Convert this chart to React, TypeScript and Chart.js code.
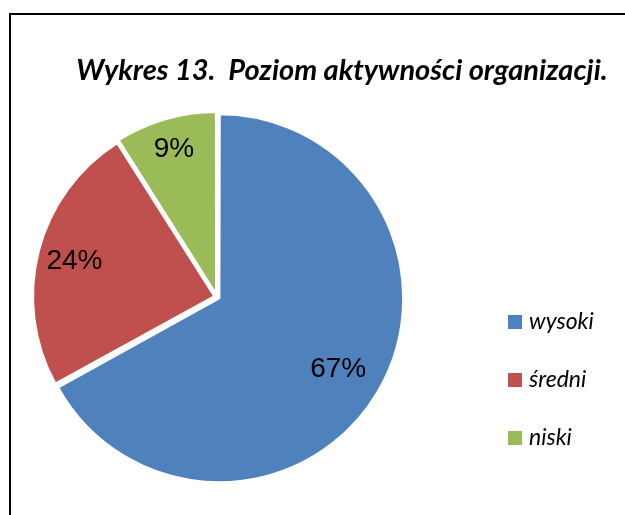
import React, { useEffect, useRef } from "react";
import { Chart, registerables } from "chart.js";

Chart.register(...registerables);

const title = "Wykres 13.  Poziom aktywności organizacji.";
const categories = ["wysoki", "średni", "niski"];
const values = [67, 24, 9];
const valueLabels = ["67%", "24%", "9%"];
const colors = ["#4F81BD", "#C0504D", "#9BBB59"];
const labelRadiusFactors = [0.775, 0.81, 0.85];

const titlePlugin = {
  id: "customTitle",
  afterDraw(chart: any) {
    const ctx = chart.ctx;
    ctx.save();
    ctx.fillStyle = "#000";
    ctx.font = "italic bold 29px Lato";
    ctx.textAlign = "center";
    ctx.textBaseline = "alphabetic";
    ctx.fillText(title, 342, 80);
    ctx.restore();
  },
};

const valueLabelPlugin = {
  id: "valueLabels",
  afterDatasetsDraw(chart: any) {
    const ctx = chart.ctx;
    const meta = chart.getDatasetMeta(0);
    ctx.save();
    ctx.fillStyle = "#000";
    ctx.font = "28px 'Liberation Sans', Arial, sans-serif";
    ctx.textAlign = "center";
    ctx.textBaseline = "middle";
    meta.data.forEach((arc: any, i: number) => {
      const p = arc.getProps(["x", "y", "startAngle", "endAngle", "outerRadius"], true);
      const mid = (p.startAngle + p.endAngle) / 2;
      const r = p.outerRadius * labelRadiusFactors[i];
      ctx.fillText(valueLabels[i], p.x + Math.cos(mid) * r, p.y + Math.sin(mid) * r + 1);
    });
    ctx.restore();
  },
};

const legendPlugin = {
  id: "customLegend",
  afterDraw(chart: any) {
    const ctx = chart.ctx;
    ctx.save();
    ctx.font = "italic 23px Lato";
    ctx.textBaseline = "middle";
    ctx.textAlign = "left";
    categories.forEach((c, i) => {
      const cy = 322 + i * 58;
      ctx.fillStyle = colors[i];
      ctx.fillRect(508, cy - 7, 14, 14);
      ctx.fillStyle = "#000";
      ctx.fillText(c, 529, cy);
    });
    ctx.restore();
  },
};

export default function App() {
  const ref = useRef<HTMLCanvasElement | null>(null);
  useEffect(() => {
    if (!ref.current) return;
    const chart = new Chart(ref.current, {
      type: "pie",
      data: {
        labels: categories,
        datasets: [
          {
            data: values,
            backgroundColor: colors,
            borderColor: "#fff",
            borderWidth: 2.5,
            offset: 10,
          },
        ],
      },
      options: {
        animation: false,
        responsive: false,
        maintainAspectRatio: false,
        layout: { padding: { left: 29, top: 109, right: 220, bottom: 30 } },
        plugins: {
          legend: { display: false },
          tooltip: { enabled: false },
          title: { display: false },
        },
      },
      plugins: [titlePlugin, valueLabelPlugin, legendPlugin],
    });
    return () => chart.destroy();
  }, []);
  return (
    <div style={{ position: "absolute", left: 0, top: 0, width: 625, height: 515, overflow: "hidden", background: "#fff" }}>
      <div
        style={{
          position: "absolute",
          left: 9,
          top: 13,
          width: 700,
          height: 600,
          borderLeft: "2px solid #000",
          borderTop: "2px solid #000",
        }}
      />
      <canvas ref={ref} width={625} height={515} style={{ position: "absolute", left: 0, top: 0 }} />
    </div>
  );
}
